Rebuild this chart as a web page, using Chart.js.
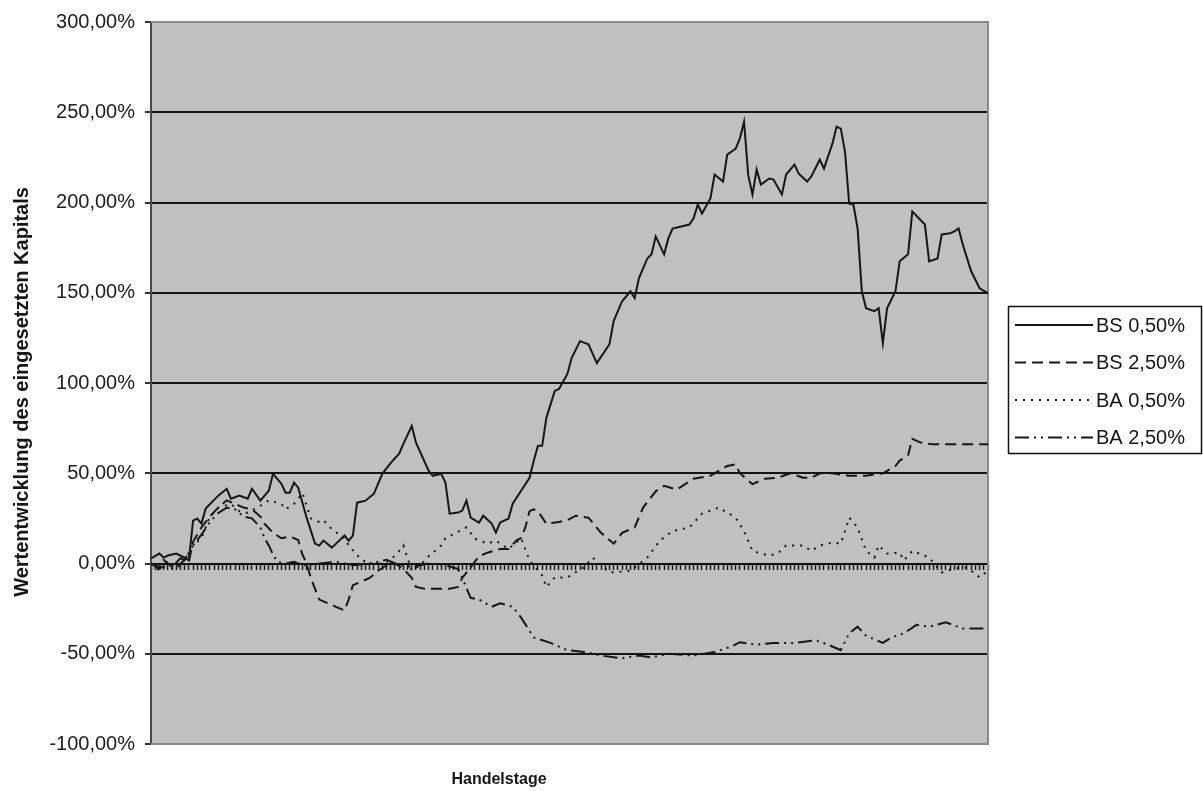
<!DOCTYPE html>
<html>
<head>
<meta charset="utf-8">
<script src="https://cdn.jsdelivr.net/npm/chart.js@4.4.1/dist/chart.umd.min.js"></script>
<style>
  html, body { margin: 0; padding: 0; background: #ffffff; }
  #wrap { width: 1203px; height: 791px; position: relative; }
</style>
</head>
<body>
<div id="wrap"><canvas id="chart" width="1203" height="791"></canvas></div>
<script>
// Series names and axis titles
const seriesNames = ['BS 0,50%', 'BS 2,50%', 'BA 0,50%', 'BA 2,50%'];
const yTitle = 'Wertentwicklung des eingesetzten Kapitals';
const xTitle = 'Handelstage';
const tradingDays = 200;
const yMin = -100, yMax = 300, yStep = 50;

// [trading day, performance in %]
const bs050 = [[0,2.8],[2,5.5],[3,3.3],[4,4.4],[6,5.5],[8,3.3],[9,1.7],[10,23.8],[11,24.9],[12,22.1],[13,30.4],[16,37.6],[18,41.4],[19,35.9],[21,37.6],[23,35.9],[24,41.4],[26,34.8],[28,40.3],[29,49.7],[31,44.2],[32,39.2],[33,39.2],[34,44.8],[35,42],[37,25.4],[39,11],[40,9.9],[41,12.7],[43,8.8],[44,11],[46,15.5],[47,12.7],[48,15.5],[49,33.7],[51,34.8],[53,38.7],[55,49.7],[57,55.8],[59,60.8],[60,66.3],[62,76.2],[63,66.9],[66,51.4],[67,48.6],[69,49.7],[70,44.8],[71,27.6],[73,28.2],[74,29.3],[75,34.8],[76,25.4],[78,22.7],[79,26.5],[81,22.1],[82,17.1],[83,22.7],[85,24.9],[86,33.1],[88,40.3],[90,47.5],[91,56.9],[92,65.2],[93,65.2],[94,80.7],[96,95.6],[97,96.7],[99,105],[100,113.8],[102,123.2],[104,121.5],[106,111],[109,121.5],[110,134.3],[112,145.3],[114,150.8],[115,147],[116,158],[118,169],[119,171.3],[120,181.2],[122,171.3],[123,180.1],[124,185.6],[128,187.8],[129,191.2],[130,198.9],[131,193.9],[133,202.2],[134,215.5],[136,211.6],[137,226.5],[139,229.8],[140,235.4],[141,244.8],[142,215],[143,204.4],[144,218.2],[145,209.9],[147,213.3],[148,212.7],[150,204.4],[151,215.5],[153,221],[154,216],[156,211.6],[157,214.4],[159,223.8],[160,218.8],[162,232.6],[163,242],[164,240.9],[165,228.2],[166,199.4],[167,198.9],[168,185.6],[169,150.8],[170,141.4],[172,139.8],[173,141.4],[174,122.1],[175,141.4],[177,150.8],[178,167.4],[180,171.3],[181,195],[184,187.8],[185,167.4],[187,169],[188,182.3],[190,182.9],[191,184],[192,185.6],[193,176.8],[195,161.9],[197,152.5],[199,149.7]];

const bs250 = [[0,0],[2,-2],[3,2],[5,-2],[7,3],[9,1],[10,12],[12,20],[14,26],[16,31],[18,35],[20,33],[22,31],[24,30],[26,26],[27,22],[29,17],[31,14],[33,15],[35,13],[36,5],[37,0],[38,-8],[39,-14],[40,-20],[42,-22],[44,-24],[46,-26],[47,-20],[48,-12],[50,-10],[52,-8],[54,-4],[56,-1],[57,1],[58,0],[60,-3],[62,-8],[63,-13],[65,-14],[68,-14],[71,-14],[73,-13],[74,-8],[76,-2],[78,4],[80,6],[83,8],[85,8],[87,13],[88,14],[89,20],[90,29],[91,30],[92,29],[94,22],[97,23],[99,24],[101,26.5],[104,25.4],[107,17],[110,11],[112,17],[115,20],[117,31],[120,40],[122,43],[125,41],[129,47],[133,48.6],[137,54],[139,55],[140,50],[143,44],[146,47],[149,47.5],[152,50],[155,47.5],[157,47.5],[159,50],[162,50],[166,48.6],[170,48.6],[174,50],[177,54],[178,57],[180,60],[181,69],[183,67],[186,66],[199,66]];

const ba050 = [[0,0],[2,-4],[3,-2],[6,-3],[8,2],[10,10],[12,14],[14,26],[16,31],[19,33],[21,29],[23,28],[26,32],[28,35],[31,33],[32,30],[34,33],[36,39],[37,32],[38,25],[40,23],[41,24],[43,19],[46,14],[47,10],[50,2],[52,0],[55,0],[57,2],[59,7],[60,10],[62,-4],[64,-1],[66,4],[69,10],[70,14],[75,20],[77,13.8],[80,11],[82,12.7],[85,8],[88,14],[90,1.7],[93,-6.6],[94,-13],[96,-7.7],[99,-7.7],[103,-2],[105,3.3],[109,-5],[114,-4],[118,3.3],[121,12.7],[124,18],[128,20],[131,27.6],[135,31],[139,25.4],[141,18],[143,7],[145,5.5],[147,4.4],[149,5.5],[151,10],[155,10],[157,7],[159,10],[162,11.6],[164,11],[165,18],[166,25.4],[168,20],[170,7],[172,3.3],[173,10],[175,5.5],[178,6],[179,1.7],[181,7],[185,3.3],[188,-5],[191,-2.8],[194,-2.2],[197,-7.7],[199,-4]];

const ba250 = [[0,0],[2,-3],[4,1],[6,-2],[8,2],[10,10],[12,16],[14,23],[16,28],[18,31],[20,30],[22,26],[24,25],[26,20],[27,14],[28,10],[29,5],[30,1],[32,0],[34,1],[36,-1],[40,0],[44,1],[48,-1],[52,0],[56,2],[58,0],[62,-2],[66,0],[70,-1],[73,-3],[74,-8],[76,-19],[78,-20],[81,-24],[83,-22],[86,-24],[88,-30],[91,-41],[95,-44],[99,-48],[103,-49],[107,-51],[112,-52.5],[116,-51],[119,-52],[123,-50],[129,-51],[134,-49],[138,-46],[140,-43.6],[144,-45],[148,-44],[153,-44],[158,-42.5],[161,-45],[164,-48],[166,-38.7],[168,-35],[170,-40],[174,-44],[176,-41],[179,-38.7],[182,-34],[185,-35],[189,-32.6],[193,-36],[198,-36],[199,-37]];

const seriesValues = [bs050, bs250, ba050, ba250];
const seriesDashes = [[], [11, 6], [2, 6], [14, 5, 2, 5, 2, 5]];

const FONT = "'Liberation Sans', Arial, sans-serif";
const INK = '#161616';

function fmtPercent(v) {
  return v.toFixed(2).replace('.', ',') + '%';
}

// Grey plot background and the thin frame around it
const plotFrame = {
  id: 'plotFrame',
  beforeDraw(chart) {
    const { ctx, chartArea: a } = chart;
    ctx.save();
    ctx.fillStyle = '#c0c0c0';
    ctx.fillRect(a.left, a.top, a.right - a.left, a.bottom - a.top);
    ctx.restore();
  },
  beforeDatasetsDraw(chart) {
    const { ctx, chartArea: a } = chart;
    ctx.save();
    ctx.strokeStyle = '#8a8a8a';
    ctx.lineWidth = 2;
    ctx.beginPath();
    ctx.moveTo(a.left, a.top);
    ctx.lineTo(a.right, a.top);
    ctx.lineTo(a.right, a.bottom);
    ctx.lineTo(a.left, a.bottom);
    ctx.stroke();
    ctx.restore();
  }
};

// Axis titles
const axisTitles = {
  id: 'axisTitles',
  afterDraw(chart) {
    const { ctx } = chart;
    ctx.save();
    ctx.fillStyle = INK;
    ctx.textAlign = 'center';
    ctx.textBaseline = 'middle';
    ctx.font = 'bold 16px ' + FONT;
    ctx.fillText(xTitle, 499, 780);
    ctx.translate(22, 392);
    ctx.rotate(-Math.PI / 2);
    ctx.font = 'bold 20px ' + FONT;
    ctx.fillText(yTitle, 0, 0);
    ctx.restore();
  }
};

// Boxed legend on the right, built from the datasets
const boxLegend = {
  id: 'boxLegend',
  afterDraw(chart) {
    const { ctx } = chart;
    const x = 1008, y = 306, w = 193, h = 147;
    ctx.save();
    ctx.fillStyle = '#ffffff';
    ctx.fillRect(x, y, w, h);
    ctx.strokeStyle = '#111';
    ctx.lineWidth = 1.5;
    ctx.strokeRect(x + 0.5, y + 0.5, w, h);
    chart.data.datasets.forEach((ds, i) => {
      const ly = 325 + i * 37.5;
      ctx.strokeStyle = ds.borderColor;
      ctx.lineWidth = ds.borderWidth;
      ctx.setLineDash(ds.borderDash || []);
      ctx.beginPath();
      ctx.moveTo(1015, ly);
      ctx.lineTo(1093, ly);
      ctx.stroke();
      ctx.setLineDash([]);
      ctx.fillStyle = INK;
      ctx.font = '20px ' + FONT;
      ctx.textAlign = 'left';
      ctx.textBaseline = 'middle';
      ctx.fillText(ds.label, 1096, ly + 1);
    });
    ctx.restore();
  }
};

const datasets = seriesNames.map((name, i) => ({
  label: name,
  data: seriesValues[i].map(([d, v]) => ({ x: d, y: v })),
  borderColor: INK,
  borderWidth: 2,
  borderDash: seriesDashes[i],
  pointRadius: 0,
  tension: 0,
  fill: false
}));

new Chart(document.getElementById('chart'), {
  type: 'line',
  data: { datasets },
  options: {
    responsive: false,
    animation: false,
    layout: { padding: { left: 0, right: 215, top: 20, bottom: 47 } },
    plugins: { legend: { display: false }, tooltip: { enabled: false } },
    scales: {
      x: {
        type: 'linear',
        min: 0,
        max: tradingDays - 1,
        position: { y: 0 },
        ticks: { display: false, stepSize: 1, autoSkip: false },
        grid: { drawOnChartArea: false, drawTicks: true, tickLength: 5, tickColor: '#1e1e1e', tickWidth: 1.5 },
        border: { display: true, color: '#111', width: 2 }
      },
      y: {
        min: yMin,
        max: yMax,
        afterFit(scale) { scale.width = 151; },
        ticks: {
          stepSize: yStep,
          callback: v => fmtPercent(v),
          color: '#202020',
          font: { family: FONT, size: 20 },
          padding: 10
        },
        grid: {
          color: c => (c.tick && (c.tick.value === yMax || c.tick.value === yMin)) ? 'rgba(0,0,0,0)' : '#141414',
          lineWidth: 2,
          tickLength: 6,
          tickColor: '#333',
          tickWidth: 2
        },
        border: { display: true, color: '#4a4a4a', width: 2 }
      }
    }
  },
  plugins: [plotFrame, axisTitles, boxLegend]
});
</script>
</body>
</html>
